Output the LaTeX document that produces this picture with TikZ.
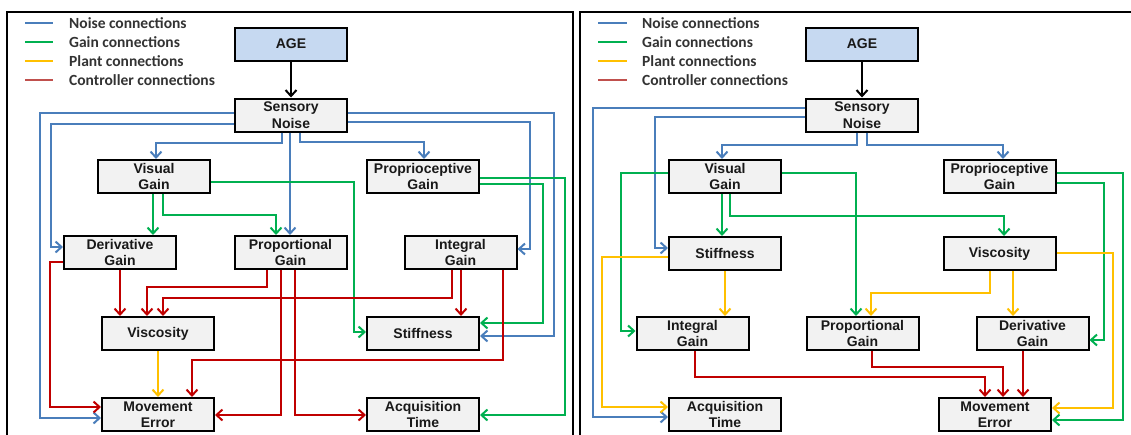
\documentclass[tikz,border=0pt]{standalone}
\usepackage{fontspec}
\setmainfont{Liberation Sans}
\newfontfamily\keyfont{Carlito}
\usetikzlibrary{arrows.meta}
\definecolor{noise}{HTML}{4A7EBB}
\definecolor{gain}{HTML}{00B050}
\definecolor{plant}{HTML}{FFC000}
\definecolor{ctrl}{HTML}{C00000}
\definecolor{ctrlkey}{HTML}{C0504D}
\definecolor{agefill}{HTML}{C6D9F1}
\definecolor{boxfill}{HTML}{F2F2F2}
\begin{document}
\begin{tikzpicture}[x=1pt,y=-1pt,
  box/.style={draw=black, line width=2pt, fill=boxfill, minimum width=112pt,
    minimum height=33pt, inner sep=0pt, align=center,
    font=\fontsize{14}{16.5}\selectfont\bfseries, text=black!90},
  agebox/.style={box, fill=agefill},
  wire/.style={line width=2pt, -{Straight Barb[length=6pt,width=11pt]}},
  blk/.style={wire, draw=black},
  nz/.style={wire, draw=noise},
  gn/.style={wire, draw=gain},
  pl/.style={wire, draw=plant},
  rd/.style={wire, draw=ctrl},
  keyline/.style={line width=2.6pt},
  keytext/.style={anchor=west, inner sep=0pt, text=black!80,
    font=\keyfont\fontsize{15.5}{18}\selectfont\bfseries},
  frame/.style={line width=1.2pt, draw=black}]
\useasboundingbox (0,0) rectangle (1131,434);
\clip (0,0) rectangle (1131,434);

% panel frames
\draw[frame] (7,440) -- (7,12) -- (573,12) -- (573,440);
\draw[frame] (580,440) -- (580,12) -- (1140,12);

% ---------------- left panel ----------------
\draw[keyline, noise]   (25,23) -- (53,23);
\draw[keyline, gain]    (25,42) -- (53,42);
\draw[keyline, plant]   (25,61) -- (53,61);
\draw[keyline, ctrlkey] (25,80) -- (53,80);
\node[keytext] (kA1) at (69,23) {Noise connections};
\node[keytext] (kA2) at (69,42) {Gain connections};
\node[keytext] (kA3) at (69,61) {Plant connections};
\node[keytext] (kA4) at (69,80) {Controller connections};

\node[agebox] (AGE) at (291,44)  {AGE};
\node[box] (SN)  at (291,115)    {Sensory\\Noise};
\node[box] (VG)  at (154,176.5)  {Visual\\Gain};
\node[box] (PG)  at (423,176.5)  {Proprioceptive\\Gain};
\node[box] (DG)  at (120,252.5)  {Derivative\\Gain};
\node[box] (PrG) at (290.5,252.5){Proportional\\Gain};
\node[box] (IG)  at (460.5,252.5){Integral\\Gain};
\node[box] (Vi)  at (158,333.5)  {Viscosity};
\node[box] (St)  at (423,333.5)  {Stiffness};
\node[box] (ME)  at (158,414.5)  {Movement\\Error};
\node[box] (AT)  at (423,414.5)  {Acquisition\\Time};

\draw[blk] (AGE) -- (SN);

% noise
\draw[nz] (SN.west|-0,113) -- (40,113) -- (40,418) -- (ME.west|-0,418);
\draw[nz] (SN.west|-0,124) -- (51,124) -- (51,247) -- (DG.west|-0,247);
\draw[nz] (282,0|-SN.south) -- (282,143) -- (156,143) -- (156,0|-VG.north);
\draw[nz] (290,0|-SN.south) -- (290,0|-PrG.north);
\draw[nz] (300,0|-SN.south) -- (300,142) -- (424,142) -- (424,0|-PG.north);
\draw[nz] (SN.east|-0,113) -- (554,113) -- (554,336) -- (St.east|-0,336);
\draw[nz] (SN.east|-0,122) -- (530,122) -- (530,249) -- (IG.east|-0,249);

% gain
\draw[gn] (153,0|-VG.south) -- (153,0|-DG.north);
\draw[gn] (163,0|-VG.south) -- (163,215) -- (276,215) -- (276,0|-PrG.north);
\draw[gn] (VG.east|-0,182) -- (354,182) -- (354,332) -- (St.west|-0,332);
\draw[gn] (PG.east|-0,178) -- (565,178) -- (565,415) -- (AT.east|-0,415);
\draw[gn] (PG.east|-0,184) -- (543,184) -- (543,323) -- (St.east|-0,323);

% controller
\draw[rd] (DG.west|-0,262) -- (50,262) -- (50,407) -- (ME.west|-0,407);
\draw[rd] (120,0|-DG.south) -- (120,0|-Vi.north);
\draw[rd] (267,0|-PrG.south) -- (267,287) -- (147,287) -- (147,0|-Vi.north);
\draw[rd] (281,0|-PrG.south) -- (281,415) -- (ME.east|-0,415);
\draw[rd] (295,0|-PrG.south) -- (295,415) -- (AT.west|-0,415);
\draw[rd] (452,0|-IG.south) -- (452,298) -- (163,298) -- (163,0|-Vi.north);
\draw[rd] (461,0|-IG.south) -- (461,0|-St.north);
\draw[rd] (503,0|-IG.south) -- (503,360) -- (192,360) -- (192,0|-ME.north);

% plant
\draw[pl] (Vi) -- (ME);

% ---------------- right panel ----------------
\draw[keyline, noise]   (598,23) -- (627,23);
\draw[keyline, gain]    (598,42) -- (627,42);
\draw[keyline, plant]   (598,61) -- (627,61);
\draw[keyline, ctrlkey] (598,80) -- (627,80);
\node[keytext] (kB1) at (642,23) {Noise connections};
\node[keytext] (kB2) at (642,42) {Gain connections};
\node[keytext] (kB3) at (642,61) {Plant connections};
\node[keytext] (kB4) at (642,80) {Controller connections};

\node[agebox] (AGEr) at (862,44)  {AGE};
\node[box] (SNr)  at (862,115)    {Sensory\\Noise};
\node[box] (VGr)  at (725,176.5)  {Visual\\Gain};
\node[box] (PGr)  at (999.5,176.5){Proprioceptive\\Gain};
\node[box] (Str)  at (725,253.5)  {Stiffness};
\node[box] (Vir)  at (999.5,253.5){Viscosity};
\node[box] (IGr)  at (692.5,333.5){Integral\\Gain};
\node[box] (PrGr) at (862.5,333.5){Proportional\\Gain};
\node[box] (DGr)  at (1032.5,333.5){Derivative\\Gain};
\node[box] (ATr)  at (725,414.5)  {Acquisition\\Time};
\node[box] (MEr)  at (995,414.5)  {Movement\\Error};

\draw[blk] (AGEr) -- (SNr);

% noise
\draw[nz] (SNr.west|-0,108) -- (593,108) -- (593,417) -- (ATr.west|-0,417);
\draw[nz] (SNr.west|-0,117) -- (655,117) -- (655,248) -- (Str.west|-0,248);
\draw[nz] (857,0|-SNr.south) -- (857,145) -- (722,145) -- (722,0|-VGr.north);
\draw[nz] (867,0|-SNr.south) -- (867,145) -- (1003,145) -- (1003,0|-PGr.north);

% gain
\draw[gn] (VGr.west|-0,173) -- (621,173) -- (621,331) -- (IGr.west|-0,331);
\draw[gn] (722,0|-VGr.south) -- (722,0|-Str.north);
\draw[gn] (730,0|-VGr.south) -- (730,216) -- (1004,216) -- (1004,0|-Vir.north);
\draw[gn] (VGr.east|-0,173) -- (856,173) -- (856,0|-PrGr.north);
\draw[gn] (PGr.east|-0,173) -- (1123,173) -- (1123,420) -- (MEr.east|-0,420);
\draw[gn] (PGr.east|-0,183) -- (1104,183) -- (1104,340) -- (DGr.east|-0,340);

% plant
\draw[pl] (Str.west|-0,257) -- (602,257) -- (602,407) -- (ATr.west|-0,407);
\draw[pl] (725,0|-Str.south) -- (725,0|-IGr.north);
\draw[pl] (990,0|-Vir.south) -- (990,293) -- (871,293) -- (871,0|-PrGr.north);
\draw[pl] (1013,0|-Vir.south) -- (1013,0|-DGr.north);
\draw[pl] (Vir.east|-0,253) -- (1113,253) -- (1113,408) -- (MEr.east|-0,408);

% controller
\draw[rd] (695,0|-IGr.south) -- (695,377) -- (985,377) -- (985,0|-MEr.north);
\draw[rd] (872,0|-PrGr.south) -- (872,367) -- (1003,367) -- (1003,0|-MEr.north);
\draw[rd] (1023,0|-DGr.south) -- (1023,0|-MEr.north);
\end{tikzpicture}
\end{document}
